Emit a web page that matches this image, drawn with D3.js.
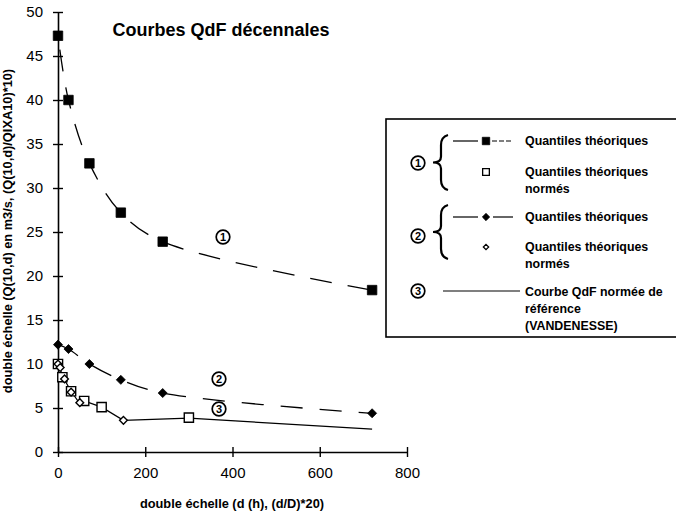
<!DOCTYPE html>
<html>
<head>
<meta charset="utf-8">
<script src="https://cdn.jsdelivr.net/npm/d3@7"></script>
<style>
  body { margin: 0; background: #fff; }
  svg { font-family: "Liberation Sans", Arial, sans-serif; }
</style>
</head>
<body>
<div id="chart"></div>
<script>
'use strict';
// values
var hours = [0, 24, 72, 144, 240, 720];
var quantiles1 = [47.3, 40.0, 32.8, 27.2, 23.9, 18.4];
var quantiles2 = [12.2, 11.7, 10.0, 8.2, 6.7, 4.4];
var normX1 = [0, 10, 30, 60, 100, 300];
var normed1 = [10, 8.5, 6.9, 5.8, 5.1, 3.9];
var normX2 = [0, 5, 15, 30, 50, 150];
var normed2 = [10, 9.6, 8.3, 6.8, 5.6, 3.6];
var refX = [0, 5, 10, 15, 30, 50, 60, 100, 150, 300, 720];
var refY = [10, 9.6, 8.5, 8.2, 6.9, 5.5, 5.8, 5.1, 3.6, 3.85, 2.6];
var xTicks = [0, 200, 400, 600, 800];
var yTicks = [0, 5, 10, 15, 20, 25, 30, 35, 40, 45, 50];

var width = 676, height = 516;

var svg = d3.select('#chart').append('svg')
    .attr('width', width)
    .attr('height', height);

// scales
var x = d3.scaleLinear().domain([0, 800]).range([58, 407]);
var y = d3.scaleLinear().domain([0, 50]).range([452, 12]);

function pts(xs, ys) {
  return xs.map(function(d, i) { return [d, ys[i]]; });
}

// axes (ticks crossing the axis line)
var xAxis = svg.append('g')
    .attr('transform', 'translate(0,452)')
    .call(d3.axisBottom(x).tickValues(xTicks).tickSizeInner(-5).tickSizeOuter(0).tickPadding(15));
xAxis.selectAll('.tick line').attr('y2', 5).attr('y1', -5);
var yAxis = svg.append('g')
    .attr('transform', 'translate(58,0)')
    .call(d3.axisLeft(y).tickValues(yTicks).tickSizeInner(5).tickSizeOuter(0).tickPadding(10));
yAxis.selectAll('.tick line').attr('x1', 5);
svg.selectAll('.domain').attr('stroke', '#000').attr('stroke-width', 1.6);
svg.selectAll('.tick line').attr('stroke', '#000').attr('stroke-width', 1.4);
svg.selectAll('.tick text')
    .attr('fill', '#000')
    .style('font-size', '15px');

// lines
var line = d3.line()
    .x(function(d) { return x(d[0]); })
    .y(function(d) { return y(d[1]); })
    .curve(d3.curveCatmullRom);

svg.append('path')
    .datum(pts(hours, quantiles1))
    .attr('d', line)
    .attr('fill', 'none')
    .attr('stroke', '#000')
    .attr('stroke-width', 1.3)
    .attr('stroke-dasharray', '22,16')
    .attr('stroke-dashoffset', -14);

svg.append('path')
    .datum(pts(hours, quantiles2))
    .attr('d', line)
    .attr('fill', 'none')
    .attr('stroke', '#000')
    .attr('stroke-width', 1.3)
    .attr('stroke-dasharray', '22,17')
    .attr('stroke-dashoffset', -40);

svg.append('path')
    .datum(pts(refX, refY))
    .attr('d', d3.line()
        .x(function(d) { return x(d[0]); })
        .y(function(d) { return y(d[1]); }))
    .attr('fill', 'none')
    .attr('stroke', '#000')
    .attr('stroke-width', 1.2);

// markers
var sqr = d3.symbol().type(d3.symbolSquare);
var dia = d3.symbol().type(d3.symbolDiamond2);

function markers(data, sym, size, filled) {
  svg.append('g').selectAll('path')
      .data(data)
    .enter().append('path')
      .attr('transform', function(d) { return 'translate(' + x(d[0]) + ',' + y(d[1]) + ')'; })
      .attr('d', sym.size(size)())
      .attr('fill', filled ? '#000' : '#fff')
      .attr('stroke', '#000')
      .attr('stroke-width', filled ? 0.8 : 1.4);
}
markers(pts(normX1, normed1), sqr, 85, false);
markers(pts(normX2, normed2), dia, 38, false);
markers(pts(hours, quantiles1), sqr, 90, true);
markers(pts(hours, quantiles2), dia, 52, true);

// circled curve numbers
function circled(parent, ch, cx, cy) {
  var g = parent.append('g').attr('transform', 'translate(' + cx + ',' + cy + ')');
  g.append('circle')
      .attr('r', 6.8)
      .attr('fill', '#fff')
      .attr('stroke', '#000')
      .attr('stroke-width', 1.7);
  g.append('text')
      .attr('y', 4)
      .attr('text-anchor', 'middle')
      .style('font-size', '11px')
      .style('font-weight', 'bold')
      .text(ch);
}
circled(svg, '1', 223, 237);
circled(svg, '2', 219, 379);
circled(svg, '3', 219, 409);

// title
svg.append('text')
    .attr('x', 221)
    .attr('y', 36)
    .attr('text-anchor', 'middle')
    .style('font-size', '18px')
    .style('font-weight', 'bold')
    .text('Courbes QdF décennales');

// axis labels
svg.append('text')
    .attr('x', 232)
    .attr('y', 508)
    .attr('text-anchor', 'middle')
    .style('font-size', '12.8px')
    .style('font-weight', 'bold')
    .text('double échelle (d (h), (d/D)*20)');

svg.append('text')
    .attr('transform', 'translate(12,231) rotate(-90)')
    .attr('text-anchor', 'middle')
    .style('font-size', '12.8px')
    .style('font-weight', 'bold')
    .text('double échelle (Q(10,d) en m3/s, (Q(10,d)/QIXA10)*10)');

// legend
var lg = svg.append('g');
lg.append('rect')
    .attr('x', 386).attr('y', 119)
    .attr('width', 300).attr('height', 218)
    .attr('fill', '#fff')
    .attr('stroke', '#000')
    .attr('stroke-width', 1.6);

function brace(top, bottom) {
  var mid = (top + bottom) / 2;
  lg.append('path')
      .attr('d', 'M448,' + top + ' Q441,' + (top + 2) + ' 441,' + (top + 10) +
            ' L441,' + (mid - 6) + ' Q441,' + mid + ' 433,' + mid +
            ' Q441,' + mid + ' 441,' + (mid + 6) +
            ' L441,' + (bottom - 10) + ' Q441,' + (bottom - 2) + ' 448,' + bottom)
      .attr('fill', 'none')
      .attr('stroke', '#000')
      .attr('stroke-width', 2.2);
}
brace(135, 190);
brace(205, 259);

circled(lg, '1', 418, 163);
circled(lg, '2', 418, 236);
circled(lg, '3', 418, 291);

function legLine(x1, x2, yy, dash) {
  lg.append('line')
      .attr('x1', x1).attr('x2', x2)
      .attr('y1', yy).attr('y2', yy)
      .attr('stroke', '#000')
      .attr('stroke-width', 1.2)
      .attr('stroke-dasharray', dash || null);
}
legLine(453, 478, 141);
legLine(492, 513, 141, '5,2');
legLine(453, 478, 217);
legLine(493, 513, 217);
legLine(443, 520, 291);

function legMarker(sym, size, filled, yy) {
  lg.append('path')
      .attr('transform', 'translate(486,' + yy + ')')
      .attr('d', sym.size(size)())
      .attr('fill', filled ? '#000' : '#fff')
      .attr('stroke', '#000')
      .attr('stroke-width', filled ? 0.8 : 1.3);
}
legMarker(sqr, 55, true, 141);
legMarker(sqr, 45, false, 172);
legMarker(dia, 34, true, 217);
legMarker(dia, 18, false, 247);

var legText = [
  ['Quantiles théoriques'],
  ['Quantiles théoriques', 'normés'],
  ['Quantiles théoriques'],
  ['Quantiles théoriques', 'normés'],
  ['Courbe QdF normée de', 'référence', '(VANDENESSE)']
];
var legY = [141, 172, 217, 247, 292];
legText.forEach(function(lines, i) {
  var t = lg.append('text')
      .attr('x', 525)
      .attr('y', legY[i] + 4)
      .style('font-size', '12.4px')
      .style('font-weight', 'bold');
  lines.forEach(function(s, j) {
    t.append('tspan').attr('x', 525).attr('dy', j === 0 ? 0 : 17).text(s);
  });
});
</script>
</body>
</html>
